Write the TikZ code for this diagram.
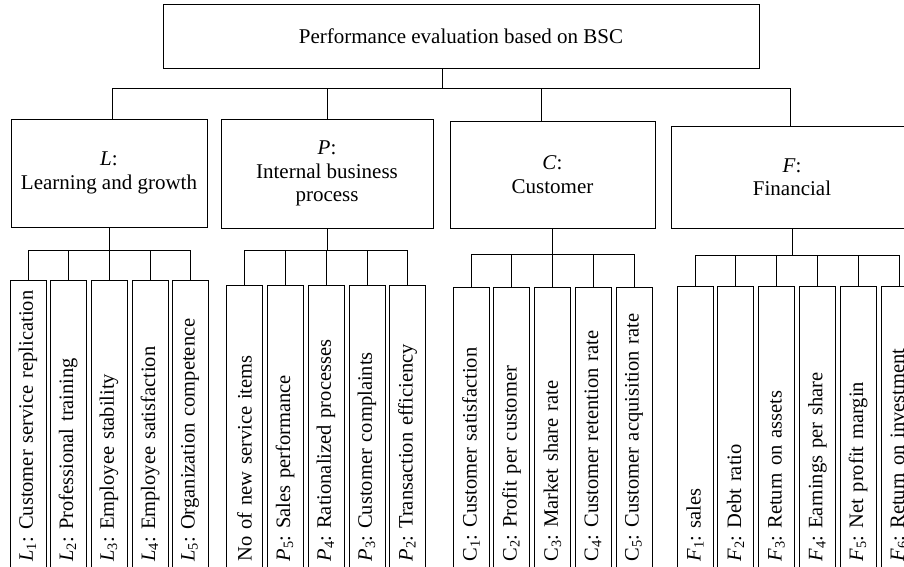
\documentclass[tikz,border=0pt]{standalone}
\usepackage{fontspec}
\setmainfont{Liberation Serif}

\tikzset{
  box/.style={draw, line width=0.9pt, align=center, inner sep=2pt, font=\fontsize{21pt}{23.5pt}\selectfont},
  leaf/.style={draw, line width=0.9pt, rotate=90, anchor=east, minimum height=36pt,
    inner xsep=6pt, inner ysep=0pt, text width=#1, align=left,
    execute at begin node=\hbox\bgroup, execute at end node=\egroup,
    font=\fontsize{20.5pt}{24pt}\selectfont},
  link/.style={line width=0.9pt}
}

\begin{document}
\frenchspacing
\begin{tikzpicture}[x=1pt, y=-1pt]
  \useasboundingbox (0,0) rectangle (904,566);

  % Root and the four perspectives
  \node[box, minimum width=596pt, minimum height=64pt] (root) at (461,36) {Performance evaluation based on BSC};
  \node[box, minimum width=196pt, minimum height=108pt] (lg) at (109,173) {\textit{L}:\\Learning and growth};
  \node[box, minimum width=212pt, minimum height=109pt] (ibp) at (327,173.5) {\textit{P}:\\Internal business\\process};
  \node[box, minimum width=205pt, minimum height=107pt] (cus) at (552.5,174.5) {\textit{C}:\\Customer};
  \node[box, minimum width=242pt, minimum height=102pt] (fin) at (792,177) {\textit{F}:\\Financial};

  \draw[link] ([xshift=-19pt]root.south) -- ++(0,20) coordinate (hub);
  \draw[link] ([xshift=3pt]lg.north) |- ([xshift=-2pt]fin.north |- hub) -- ([xshift=-2pt]fin.north);
  \draw[link] (ibp.north) -- (ibp.north |- hub);
  \draw[link] ([xshift=-11pt]cus.north) -- ([xshift=-11pt]cus.north |- hub);

  % Learning and growth indicators
  \node[leaf=275pt] (l1) at (28,280) {\textit{L}\textsubscript{1}: Customer service replication};
  \node[leaf=275pt] (l2) at (68,280) {\textit{L}\textsubscript{2}: Professional training};
  \node[leaf=275pt] (l3) at (109,280) {\textit{L}\textsubscript{3}: Employee stability};
  \node[leaf=275pt] (l4) at (150,280) {\textit{L}\textsubscript{4}: Employee satisfaction};
  \node[leaf=275pt] (l5) at (190,280) {\textit{L}\textsubscript{5}: Organization competence};

  \draw[link] (lg.south) -- ++(0,23) coordinate (lbus);
  \draw[link] (l1.east) |- (l5.east |- lbus) -- (l5.east);
  \draw[link] (l2.east) -- (l2.east |- lbus) (l3.east) -- (l3.east |- lbus) (l4.east) -- (l4.east |- lbus);

  % Internal business process indicators
  \node[leaf=270pt] (p6) at (244.5,285) {No of new service items};
  \node[leaf=270pt] (p5) at (285,285) {\textit{P}\textsubscript{5}: Sales performance};
  \node[leaf=270pt] (p4) at (326,285) {\textit{P}\textsubscript{4}: Rationalized processes};
  \node[leaf=270pt] (p3) at (367,285) {\textit{P}\textsubscript{3}: Customer complaints};
  \node[leaf=270pt] (p2) at (407.5,285) {\textit{P}\textsubscript{2}: Transaction efficiency};

  \draw[link] (ibp.south) -- ++(0,22) coordinate (pbus);
  \draw[link] (p6.east) |- (p2.east |- pbus) -- (p2.east);
  \draw[link] (p5.east) -- (p5.east |- pbus) (p4.east) -- (p4.east |- pbus) (p3.east) -- (p3.east |- pbus);

  % Customer indicators
  \node[leaf=268pt] (c1) at (471,287) {C\textsubscript{1}: Customer satisfaction};
  \node[leaf=268pt] (c2) at (511.5,287) {C\textsubscript{2}: Profit per customer};
  \node[leaf=268pt] (c3) at (552.5,287) {C\textsubscript{3}: Market share rate};
  \node[leaf=268pt] (c4) at (593,287) {C\textsubscript{4}: Customer retention rate};
  \node[leaf=268pt] (c5) at (634,287) {C\textsubscript{5}: Customer acquisition rate};

  \draw[link] (cus.south) -- ++(0,26) coordinate (cbus);
  \draw[link] (c1.east) |- (c5.east |- cbus) -- (c5.east);
  \draw[link] (c2.east) -- (c2.east |- cbus) (c3.east) -- (c3.east |- cbus) (c4.east) -- (c4.east |- cbus);

  % Financial indicators
  \node[leaf=269pt] (f1) at (695,286) {\textit{F}\textsubscript{1}: sales};
  \node[leaf=269pt] (f2) at (735.5,286) {\textit{F}\textsubscript{2}: Debt ratio};
  \node[leaf=269pt] (f3) at (776.5,286) {\textit{F}\textsubscript{3}: Return on assets};
  \node[leaf=269pt] (f4) at (817.5,286) {\textit{F}\textsubscript{4}: Earnings per share};
  \node[leaf=269pt] (f5) at (858,286) {\textit{F}\textsubscript{5}: Net profit margin};
  \node[leaf=269pt] (f6) at (899,286) {\textit{F}\textsubscript{6}: Return on investment};

  \draw[link] (fin.south) -- ++(0,27) coordinate (fbus);
  \draw[link] (f1.east) |- (f6.east |- fbus) -- (f6.east);
  \draw[link] (f2.east) -- (f2.east |- fbus) (f3.east) -- (f3.east |- fbus) (f4.east) -- (f4.east |- fbus) (f5.east) -- (f5.east |- fbus);
\end{tikzpicture}
\end{document}
